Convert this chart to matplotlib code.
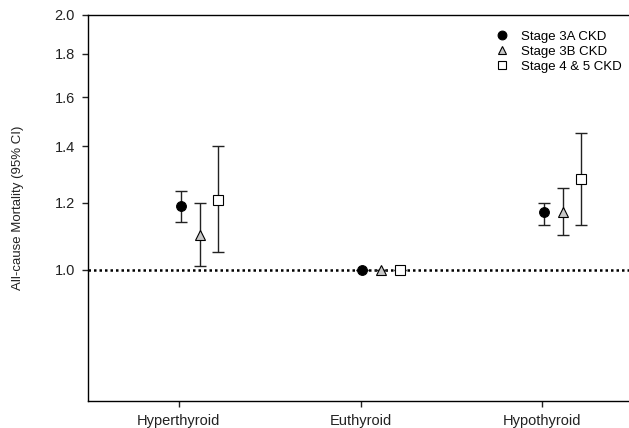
import matplotlib
matplotlib.use('Agg')
import matplotlib.pyplot as plt
import matplotlib.ticker as ticker
import numpy as np

plt.rcParams['font.family'] = ['Liberation Sans', 'DejaVu Sans']

# data
groups = ["Hyperthyroid", "Euthyroid", "Hypothyroid"]
stages = ["Stage 3A CKD", "Stage 3B CKD", "Stage 4 & 5 CKD"]
hr_3a = [1.19, 1.00, 1.17]
lo_3a = [1.14, 1.00, 1.13]
hi_3a = [1.24, 1.00, 1.20]
hr_3b = [1.10, 1.00, 1.17]
lo_3b = [1.01, 1.00, 1.10]
hi_3b = [1.20, 1.00, 1.25]
hr_45 = [1.21, 1.00, 1.28]
lo_45 = [1.05, 1.00, 1.13]
hi_45 = [1.40, 1.00, 1.45]
yticks = [1.0, 1.2, 1.4, 1.6, 1.8, 2.0]

series = [
    (hr_3a, lo_3a, hi_3a, dict(marker='o', mfc='black', mec='black', ms=7)),
    (hr_3b, lo_3b, hi_3b, dict(marker='^', mfc='#c8c8c8', mec='black', ms=7)),
    (hr_45, lo_45, hi_45, dict(marker='s', mfc='white', mec='black', ms=7)),
]
offsets = [0.01, 0.115, 0.215]

fig = plt.figure(figsize=(6.29, 4.28), dpi=100)
ax = fig.add_axes([88 / 629, 27 / 428, 545 / 629, 386 / 428])

x = np.arange(1, len(groups) + 1)
ax.axhline(1.0, color='black', ls=(0, (1, 1.2)), lw=1.8, zorder=1)

for (hr, lo, hi, style), off, name in zip(series, offsets, stages):
    hr = np.array(hr)
    err = [hr - np.array(lo), np.array(hi) - hr]
    ax.errorbar(x + off, hr, yerr=err, fmt='none', ecolor='#222222',
                elinewidth=1, capsize=4, capthick=1, zorder=2)
    ax.plot(x + off, hr, ls='none', label=name, zorder=3, mew=0.8, **style)

ax.set_yscale('log')
ax.set_ylim(0.7, 2.0)
ax.set_xlim(0.5, 3.5)
ax.yaxis.set_major_locator(ticker.FixedLocator(yticks))
ax.yaxis.set_major_formatter(ticker.FixedFormatter(['%.1f' % t for t in yticks]))
ax.yaxis.set_minor_locator(ticker.NullLocator())
ax.set_xticks(x)
ax.set_xticklabels(groups)

for side in ['left', 'bottom', 'top']:
    ax.spines[side].set_linewidth(1.0)
ax.spines['right'].set_visible(False)

ax.tick_params(axis='both', labelsize=10.5, colors='#222222', length=4.5, width=1)
ax.tick_params(axis='y', pad=5)
ax.tick_params(axis='x', pad=5)
ax.set_ylabel("All-cause Mortality (95% CI)", fontsize=9.5, color='#222222')
ax.yaxis.set_label_coords(-0.118, 0.5)

ax.legend(loc='upper left', bbox_to_anchor=(489 / 629, 1 - 25 / 428),
          bbox_transform=fig.transFigure, frameon=False, fontsize=9.5,
          handletextpad=0.8, labelspacing=0.22, borderaxespad=0,
          handlelength=1.2, markerscale=0.9)

fig.savefig('out.png', dpi=100)
